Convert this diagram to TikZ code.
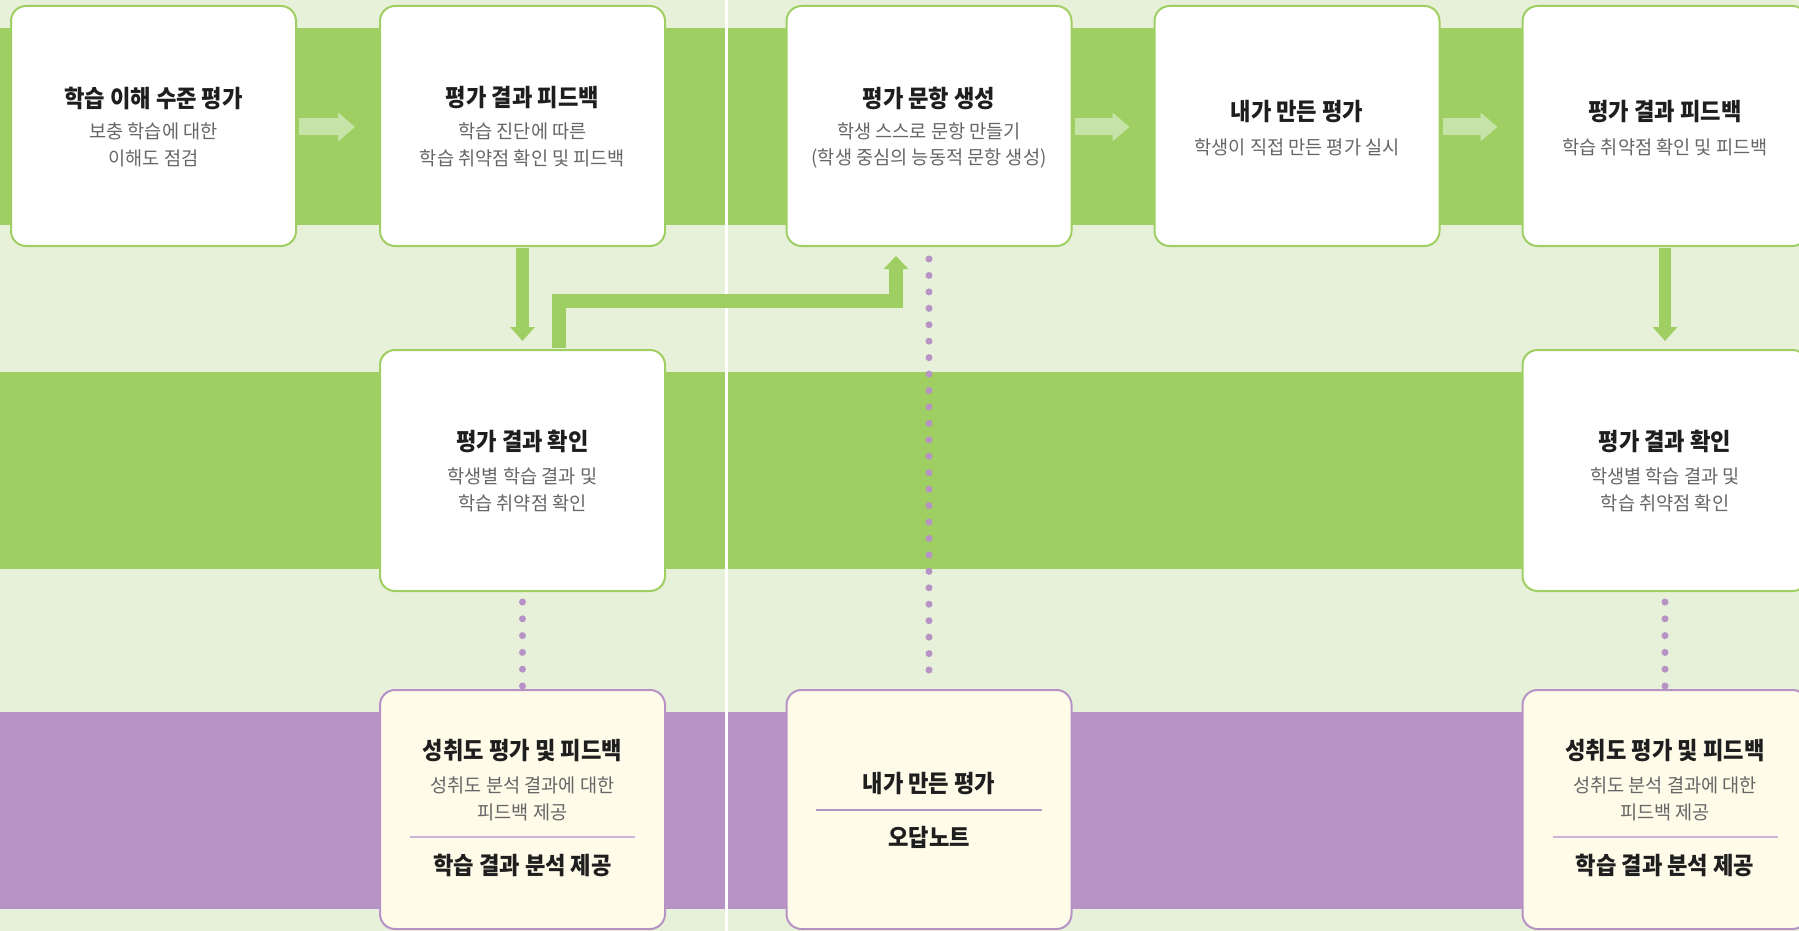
\documentclass[tikz,border=0pt]{standalone}
\usepackage{fontspec}
\newfontfamily\krT[FakeStretch=0.925]{Noto Sans CJK KR}
\newfontfamily\krS[FakeStretch=0.98]{Noto Sans CJK KR}
\usetikzlibrary{arrows.meta,calc}
\definecolor{bgc}{HTML}{E7F1D9}
\definecolor{band}{HTML}{9FCE62}
\definecolor{lightarr}{HTML}{C7E4A8}
\definecolor{purp}{HTML}{B692C5}
\definecolor{cream}{HTML}{FEFBE9}
\definecolor{ttlc}{HTML}{1E1E1E}
\definecolor{subc}{HTML}{666666}
\definecolor{rulec}{HTML}{CDB3D9}
\begin{document}
\begin{tikzpicture}[x=1pt,y=-1pt,
 gcard/.style={draw=band, line width=2pt, fill=white, rounded corners=15pt, minimum width=285pt, minimum height=240pt, inner sep=0pt},
 pcard/.style={draw=purp, line width=2pt, fill=cream, rounded corners=15pt, minimum width=285pt, minimum height=239pt, inner sep=0pt},
 ttl/.style={font=\krT\bfseries\fontsize{24}{28}\selectfont, text=ttlc, inner sep=0pt},
 sub/.style={font=\krS\fontsize{19}{23}\selectfont, text=subc, inner sep=0pt},
 flowarr/.style={line width=17pt, draw=lightarr, -{Triangle[length=17pt,width=28pt]}},
 downarr/.style={line width=12.5pt, draw=band, -{Triangle[length=14pt,width=24pt]}},
 dotline/.style={draw=purp, line width=7pt, line cap=round, dash pattern=on 0pt off 16.44pt},
 sepline/.style={line width=1.3pt}
]
\clip (0,0) rectangle (1799,931);
% background and bands
\fill[bgc] (0,0) rectangle (1799,931);
\fill[band] (0,28) rectangle (1799,225);
\fill[band] (0,372) rectangle (1799,569);
\fill[purp] (0,712) rectangle (1799,909);
\fill[white] (725,0) rectangle (728,931);

% top cards
\node[gcard] (c1) at (153.5,126) {};
\node[gcard] (c2) at (522.5,126) {};
\node[gcard] (c3) at (929,126) {};
\node[gcard] (c4) at (1297,126) {};
\node[gcard] (c5) at (1665,126) {};
% middle cards
\node[gcard, minimum height=241pt] (m1) at (522.5,470.5) {};
\node[gcard, minimum height=241pt] (m2) at (1665,470.5) {};
% bottom cards
\node[pcard] (b1) at (522.5,809.5) {};
\node[pcard] (b2) at (929,809.5) {};
\node[pcard] (b3) at (1665,809.5) {};

% texts top row
\node[ttl] (c1t) at (153.5,98) {학습 이해 수준 평가};
\node[sub] (c1a) at (153.5,131) {보충 학습에 대한};
\node[sub] (c1b) at (153.5,158) {이해도 점검};
\node[ttl] (c2t) at (522.5,98) {평가 결과 피드백};
\node[sub] (c2a) at (522.5,131) {학습 진단에 따른};
\node[sub] (c2b) at (522.5,158) {학습 취약점 확인 및 피드백};
\node[ttl] (c3t) at (929,98) {평가 문항 생성};
\node[sub] (c3a) at (929,131) {학생 스스로 문항 만들기};
\node[sub] (c3b) at (929,158) {(학생 중심의 능동적 문항 생성)};
\node[ttl] (c4t) at (1297,112) {내가 만든 평가};
\node[sub] (c4a) at (1297,147) {학생이 직접 만든 평가 실시};
\node[ttl] (c5t) at (1665,112) {평가 결과 피드백};
\node[sub] (c5a) at (1665,147) {학습 취약점 확인 및 피드백};
% middle texts
\node[ttl] (m1t) at (522.5,441) {평가 결과 확인};
\node[sub] (m1a) at (522.5,476) {학생별 학습 결과 및};
\node[sub] (m1b) at (522.5,503) {학습 취약점 확인};
\node[ttl] (m2t) at (1665,441) {평가 결과 확인};
\node[sub] (m2a) at (1665,476) {학생별 학습 결과 및};
\node[sub] (m2b) at (1665,503) {학습 취약점 확인};
% bottom texts
\node[ttl] (b1t) at (522.5,751) {성취도 평가 및 피드백};
\node[sub] (b1a) at (522.5,785) {성취도 분석 결과에 대한};
\node[sub] (b1b) at (522.5,812) {피드백 제공};
\draw[rulec, sepline] ($(b1.center)+(-112.5,27.5)$) -- ++(225,0);
\node[ttl] (b1c) at (522.5,865) {학습 결과 분석 제공};
\node[ttl] (b2t) at (929,784) {내가 만든 평가};
\draw[purp, sepline] ($(b2.center)+(-113,0.5)$) -- ++(226,0);
\node[ttl] (b2c) at (929,837) {오답노트};
\node[ttl] (b3t) at (1665,751) {성취도 평가 및 피드백};
\node[sub] (b3a) at (1665,785) {성취도 분석 결과에 대한};
\node[sub] (b3b) at (1665,812) {피드백 제공};
\draw[rulec, sepline] ($(b3.center)+(-112.5,27.5)$) -- ++(225,0);
\node[ttl] (b3c) at (1665,865) {학습 결과 분석 제공};

% light flow arrows
\draw[flowarr] ($(c1.east)+(2,1)$) -- ($(c2.west)+(-24,1)$);
\draw[flowarr] ($(c3.east)+(2,1)$) -- ($(c4.west)+(-24,1)$);
\draw[flowarr] ($(c4.east)+(2,1)$) -- ($(c5.west)+(-24,1)$);

% down arrows
\draw[downarr] ($(c2.south)+(0,1)$) -- ($(m1.north)+(0,-8)$);
\draw[downarr] ($(c5.south)+(0,1)$) -- ($(m2.north)+(0,-8)$);

% up-right connector
\draw[line width=14pt, draw=band, -{Triangle[length=13pt,width=24pt]}]
  ($(m1.north)+(36.5,-1)$) |- ($(c3.south)+(-33,54)$) -- ($(c3.south)+(-33,9)$);

% dotted connectors
\draw[dotline] ($(c3.south)+(0,12)$) -- ($(b2.north)+(0,-12)$);
\draw[dotline, dash pattern=on 0pt off 16.8pt] ($(m1.south)+(0,10)$) -- ($(b1.north)+(0,-1)$);
\draw[dotline, dash pattern=on 0pt off 16.8pt] ($(m2.south)+(0,10)$) -- ($(b3.north)+(0,-1)$);
\end{tikzpicture}
\end{document}
